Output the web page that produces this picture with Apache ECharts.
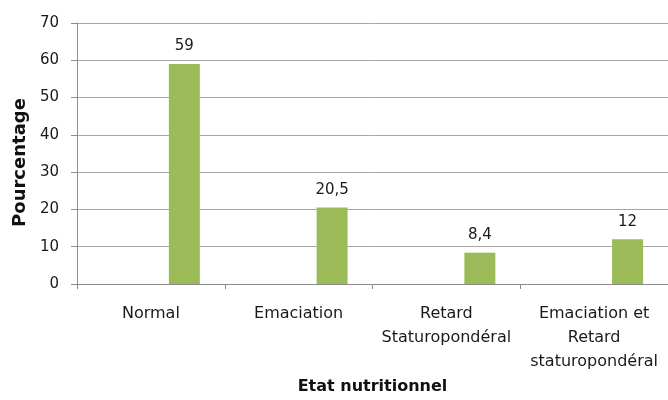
<!DOCTYPE html>
<html>
<head>
<meta charset="utf-8">
<script src="https://cdn.jsdelivr.net/npm/echarts@6/dist/echarts.min.js"></script>
<style>html,body{margin:0;padding:0;background:#fff;}#c{width:668px;height:400px;}</style>
</head>
<body>
<div id="c"></div>
<script>
var categories = ['Normal', 'Emaciation', 'Retard\nStaturopondéral', 'Emaciation et\nRetard\nstaturopondéral'];
var values = [59, 20.5, 8.4, 12];
var labels = ['59', '20,5', '8,4', '12'];
var yTicks = { min: 0, max: 70, interval: 10 };

var chart = echarts.init(document.getElementById('c'), null, { renderer: 'canvas' });
var font = 'DejaVu Sans';
chart.setOption({
  animation: false,
  backgroundColor: '#ffffff',
  grid: { left: 77, right: 0, top: 23, bottom: 111, containLabel: false },
  xAxis: {
    type: 'category',
    data: categories,
    name: 'Etat nutritionnel',
    nameLocation: 'middle',
    nameGap: 95,
    nameTextStyle: { fontFamily: font, fontWeight: 'bold', fontSize: 16, color: '#111' },
    axisLine: { lineStyle: { color: '#8c8c8c', width: 1 } },
    axisTick: { show: true, alignWithLabel: false, length: 5, lineStyle: { color: '#8c8c8c' } },
    axisLabel: { fontFamily: font, fontSize: 16, color: '#1a1a1a', margin: 18, lineHeight: 24, interval: 0 }
  },
  yAxis: {
    type: 'value',
    min: yTicks.min, max: yTicks.max, interval: yTicks.interval,
    name: 'Pourcentage',
    nameLocation: 'middle',
    nameGap: 48,
    nameRotate: 90,
    nameTextStyle: { fontFamily: font, fontWeight: 'bold', fontSize: 18, color: '#111', padding: [0, 18, 0, 0] },
    axisLine: { show: true, lineStyle: { color: '#8c8c8c', width: 1 } },
    axisTick: { show: true, length: 6, lineStyle: { color: '#8c8c8c' } },
    axisLabel: { fontFamily: font, fontSize: 15, color: '#1a1a1a', margin: 18 },
    splitLine: { show: true, lineStyle: { color: '#a6a6a6', width: 1 } }
  },
  series: [
    {
      name: 'blank',
      type: 'bar',
      data: categories.map(function () { return '-'; }),
      barWidth: 31,
      barGap: '116%',
      silent: true
    },
    {
      name: 'Pourcentage',
      type: 'bar',
      data: values,
      barWidth: 31,
      barGap: '116%',
      itemStyle: { color: '#9bbb59' },
      label: {
        show: true,
        position: 'top',
        distance: 10,
        fontFamily: font,
        fontSize: 15,
        color: '#1a1a1a',
        formatter: function (p) { return labels[p.dataIndex]; }
      }
    }
  ]
});
</script>
</body>
</html>
